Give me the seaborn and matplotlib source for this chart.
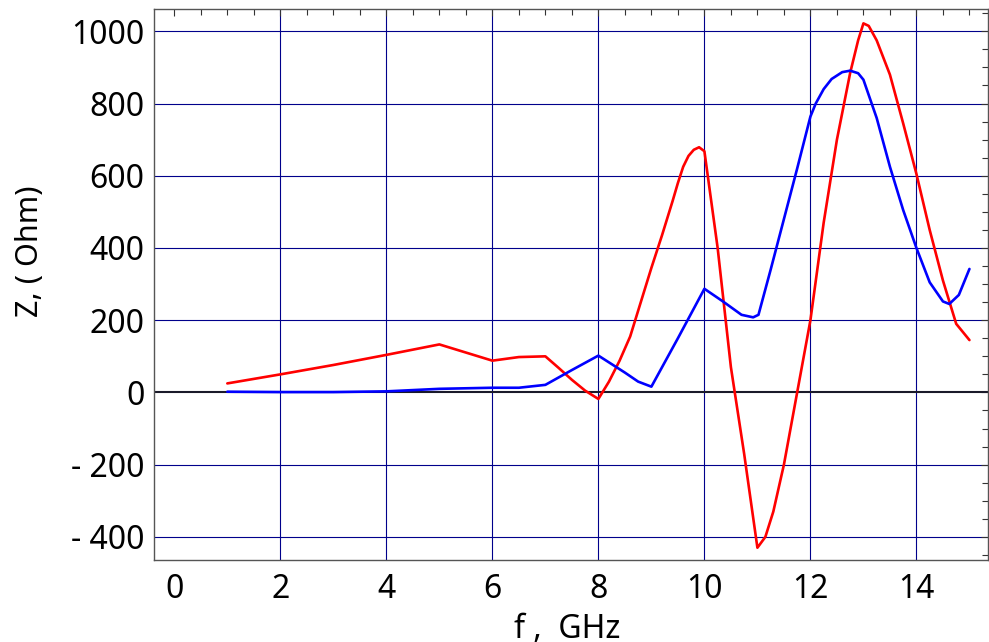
import numpy as np
import pandas as pd
import matplotlib
matplotlib.use('Agg')
import matplotlib.pyplot as plt
from matplotlib.ticker import MultipleLocator
import seaborn as sns

# 曲線資料
f_red = [1, 2, 3, 4, 5, 6, 6.5, 7, 7.25, 7.5, 7.75, 8, 8.2, 8.4, 8.6, 8.8, 9.0, 9.2,
         9.4, 9.5, 9.6, 9.7, 9.8, 9.9, 10.0, 10.25, 10.5, 10.75, 11.0, 11.15, 11.3,
         11.5, 11.75, 12.0, 12.25, 12.5, 12.75, 12.9, 13.0, 13.1, 13.25, 13.5, 13.75,
         14.0, 14.25, 14.5, 14.75, 15.0]
z_red = [25, 50, 76, 104, 133, 88, 98, 100, 68, 35, 5, -18, 30, 88, 155, 250, 345, 435,
         530, 580, 625, 655, 672, 679, 668, 400, 70, -170, -430, -400, -330,
         -200, 0, 200, 470, 700, 885, 975, 1022, 1015, 975, 880, 745,
         605, 450, 310, 190, 145]

f_blue = [1, 2, 3, 4, 5, 6, 6.5, 7, 7.5, 8, 8.5, 8.75, 9, 9.5, 10, 10.35, 10.7, 10.92,
          11.02, 11.25, 11.5, 11.75, 12.0, 12.1, 12.25, 12.4, 12.6, 12.75, 12.9, 13.0,
          13.25, 13.5, 13.75, 14.0, 14.25, 14.5, 14.62, 14.8, 15.0]
z_blue = [2, 1, 1, 3, 10, 13, 13, 21, 62, 102, 55, 30, 16, 150, 287, 252, 215, 208,
          215, 340, 480, 620, 764, 800, 840, 868, 887, 891, 884, 866,
          760, 625, 505, 400, 305, 252, 245, 270, 342]

x_ticks = [0, 2, 4, 6, 8, 10, 12, 14]
y_ticks = [-400, -200, 0, 200, 400, 600, 800, 1000]
y_tick_labels = ['- 400', '- 200', '0', '200', '400', '600', '800', '1000']

df_red = pd.DataFrame({'f': f_red, 'Z': z_red})
df_blue = pd.DataFrame({'f': f_blue, 'Z': z_blue})

sns.set_theme(style='white')
plt.rcParams['font.family'] = ['Noto Sans', 'DejaVu Sans']
plt.rcParams['text.color'] = 'black'
plt.rcParams['xtick.labelcolor'] = 'black'
plt.rcParams['ytick.labelcolor'] = 'black'

W, H = 989, 642
fig = plt.figure(figsize=(W / 100, H / 100), dpi=100)
ax = fig.add_axes([154 / W, (H - 560) / H, (988 - 154) / W, (560 - 9.3) / H])

ax.set_xlim(-0.383, 15.35)
ax.set_ylim(-464, 1061)

# 格線
ax.set_xticks(x_ticks)
ax.set_yticks(y_ticks, y_tick_labels)
ax.xaxis.set_minor_locator(MultipleLocator(0.5))
ax.yaxis.set_minor_locator(MultipleLocator(50))
ax.grid(True, which='major', color='#00008b', linewidth=0.8, zorder=1)
ax.get_xgridlines()[0].set_visible(False)
ax.get_ygridlines()[2].set_visible(False)
ax.axhline(0, color='#1a1a2a', linewidth=1.5, zorder=2)

sns.lineplot(data=df_red, x='f', y='Z', ax=ax, color='#ff0000', linewidth=1.9,
             sort=False, estimator=None, zorder=3)
sns.lineplot(data=df_blue, x='f', y='Z', ax=ax, color='#0000ff', linewidth=1.9,
             sort=False, estimator=None, zorder=3)

ax.set_xlabel('')
ax.set_ylabel('')

ax.tick_params(which='both', direction='in', top=True, right=True,
               color='#333333', width=0.8, labelsize=23, labelcolor='black')
ax.tick_params(which='major', length=5)
ax.tick_params(which='minor', length=4)
ax.tick_params(axis='y', pad=7)
ax.tick_params(axis='x', pad=9)
for s in ax.spines.values():
    s.set_color('#555555')
    s.set_linewidth(1.0)

fig.text(567 / W, 1 - 638 / H, 'f ,  GHz', ha='center', va='baseline',
         fontsize=23, color='black')
fig.text(30 / W, 1 - 251 / H, 'Z, ( Ohm)', ha='center', va='center',
         rotation=90, fontsize=22, color='black')

fig.savefig('out.png', dpi=100)
